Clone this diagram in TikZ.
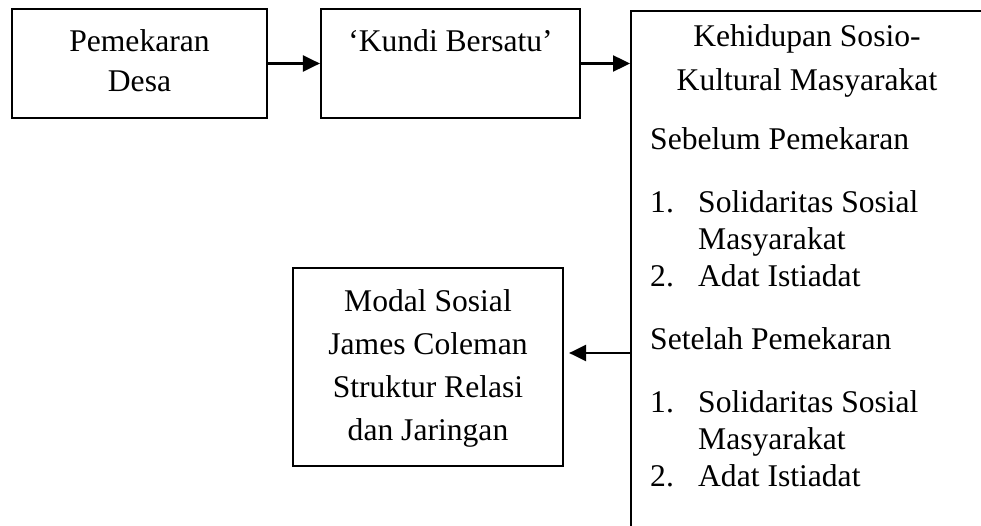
\documentclass[tikz,border=0pt]{standalone}
\usepackage{fontspec}
\setmainfont{Liberation Serif}
\usepackage{tikz}
\usetikzlibrary{arrows.meta, positioning}

\tikzset{
    flowbox/.style={draw, rectangle, line width=2.2pt, inner sep=0pt},
    flowtext/.style={inner sep=0pt, font=\fontsize{31.6}{#1}\selectfont},
    flowarrow/.style={line width=2.4pt, -{Triangle[length=17pt, width=16pt]}},
}

\begin{document}
\begin{tikzpicture}[x=1pt, y=-1pt]
    \useasboundingbox (0,0) rectangle (981,526);
    \clip (0,0) rectangle (981,526);

    % kotak atas
    \node[flowbox, flowtext=40, minimum width=255pt, minimum height=109pt] (desa) at (139.5,63.5) {
        \begin{tabular}{c}
            Pemekaran \\
            Desa
        \end{tabular}
    };
    \node[flowbox, flowtext=40, minimum width=259pt, minimum height=109pt] (kundi) at (450.5,63.5) {
        \begin{tabular}{c}
            ‘Kundi Bersatu’ \\
            \mbox{}
        \end{tabular}
    };

    % kotak kehidupan sosio-kultural (terpotong di kanan dan bawah)
    \node[flowbox, anchor=north west, minimum width=420pt, minimum height=600pt] (sosio) at (630,10) {};
    \node[flowtext=44, anchor=north] (judul) at (807,16) {
        \begin{tabular}{c}
            Kehidupan Sosio- \\
            Kultural Masyarakat
        \end{tabular}
    };
    \node[flowtext=37, anchor=north west] (daftar) at (650,123) {
        \begin{tabular}{@{}p{48pt}@{}l@{}}
            \multicolumn{2}{@{}l@{}}{Sebelum Pemekaran} \\[26pt]
            1. & Solidaritas Sosial \\
               & Masyarakat \\
            2. & Adat Istiadat \\[26pt]
            \multicolumn{2}{@{}l@{}}{Setelah Pemekaran} \\[26pt]
            1. & Solidaritas Sosial \\
               & Masyarakat \\
            2. & Adat Istiadat
        \end{tabular}
    };

    % kotak modal sosial
    \node[flowbox, flowtext=43, minimum width=270pt, minimum height=198pt] (modal) at (428,367) {
        \begin{tabular}{c}
            Modal Sosial \\
            James Coleman \\
            Struktur Relasi \\
            dan Jaringan
        \end{tabular}
    };

    % panah
    \coordinate (balik) at (0,353);
    \draw[flowarrow] (desa.east) -- (kundi.west);
    \draw[flowarrow] (kundi.east) -- (kundi.east -| sosio.west);
    \draw[flowarrow, shorten >=5pt] (sosio.west |- balik) -- (modal.east |- balik);
\end{tikzpicture}
\end{document}
